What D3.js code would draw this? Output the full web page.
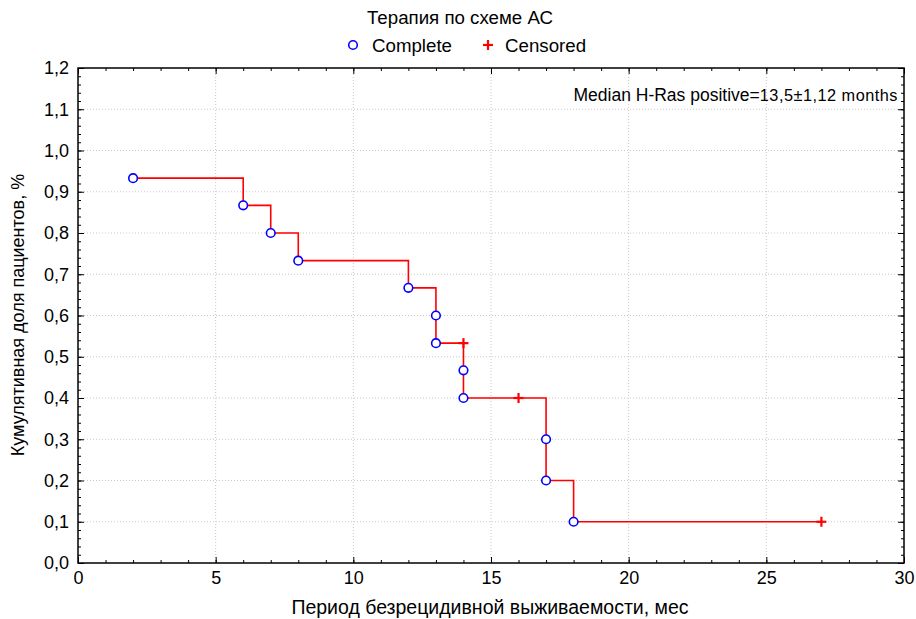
<!DOCTYPE html>
<html><head><meta charset="utf-8">
<script src="https://cdn.jsdelivr.net/npm/d3@7"></script>
<style>
body{margin:0;background:#fff;}
text{font-family:"Liberation Sans",Arial,sans-serif;fill:#000;}
</style></head>
<body><svg id="c" width="916" height="619"></svg>
<script>
// Kaplan-Meier step curve (time, cumulative proportion)
const stepTime = [2, 6, 7, 8, 12, 13, 14, 17, 18, 27];
const stepSurv = [0.933, 0.867, 0.8, 0.733, 0.667, 0.533, 0.4, 0.2, 0.1, 0.1];
// Complete (event) observations
const completeTime = [2, 6, 7, 8, 12, 13, 13, 14, 14, 17, 17, 18];
const completeSurv = [0.933, 0.867, 0.8, 0.733, 0.667, 0.6, 0.533, 0.467, 0.4, 0.3, 0.2, 0.1];
// Censored observations
const censTime = [14, 16, 27];
const censSurv = [0.533, 0.4, 0.1];
const xTicks = [0, 5, 10, 15, 20, 25, 30];
const yTicks = [0, 0.1, 0.2, 0.3, 0.4, 0.5, 0.6, 0.7, 0.8, 0.9, 1.0, 1.1, 1.2];

const svg = d3.select("#c");
const L = 78, R = 904, T = 68, B = 563;
const x = d3.scaleLinear().domain([0, 30]).range([L, R]);
const y = d3.scaleLinear().domain([0, 1.2]).range([B, T]);
const fmtY = d => d3.format(".1f")(d).replace(".", ",");

// grid
const grid = svg.append("g").attr("stroke", "#c8c8c8").attr("stroke-dasharray", "1,2").attr("stroke-width", 1);
xTicks.slice(1, -1).forEach(t => grid.append("line").attr("x1", x(t)).attr("x2", x(t)).attr("y1", T).attr("y2", B));
yTicks.slice(1, -1).forEach(t => grid.append("line").attr("x1", L).attr("x2", R).attr("y1", y(t)).attr("y2", y(t)));

// minor ticks
const minorX = d3.range(0, 31, 1), minorY = d3.range(0, 1.2001, 0.02);
function axisG(ax, tr){ const g = svg.append("g").attr("transform", tr).call(ax); g.select(".domain").remove(); g.selectAll("line").attr("stroke","#000"); return g; }
axisG(d3.axisBottom(x).tickValues(minorX).tickSize(-3).tickFormat(""), `translate(0,${B})`);
axisG(d3.axisTop(x).tickValues(minorX).tickSize(-3).tickFormat(""), `translate(0,${T})`);
axisG(d3.axisLeft(y).tickValues(minorY).tickSize(-3).tickFormat(""), `translate(${L},0)`);
axisG(d3.axisRight(y).tickValues(minorY).tickSize(-3).tickFormat(""), `translate(${R},0)`);
// major ticks
const gx = axisG(d3.axisBottom(x).tickValues(xTicks).tickSize(-6).tickPadding(8).tickFormat(d3.format("d")), `translate(0,${B})`);
const gy = axisG(d3.axisLeft(y).tickValues(yTicks).tickSize(-6).tickPadding(9).tickFormat(fmtY), `translate(${L},0)`);
axisG(d3.axisTop(x).tickValues(xTicks).tickSize(-6).tickFormat(""), `translate(0,${T})`);
axisG(d3.axisRight(y).tickValues(yTicks).tickSize(-6).tickFormat(""), `translate(${R},0)`);
[gx, gy].forEach(g => g.selectAll("text").attr("font-size", 18).attr("font-family", "Liberation Sans, Arial, sans-serif").attr("fill", "#000"));

// frame
svg.append("rect").attr("x", L).attr("y", T).attr("width", R - L).attr("height", B - T)
  .attr("fill", "none").attr("stroke", "#000").attr("stroke-width", 1.5);

// step line
const steps = stepTime.map((t, i) => [t, stepSurv[i]]);
svg.append("path").datum(steps)
  .attr("d", d3.line().x(d => x(d[0])).y(d => y(d[1])).curve(d3.curveStepAfter))
  .attr("fill", "none").attr("stroke", "#ff0000").attr("stroke-width", 1.6);

// censored
censTime.forEach((t, i) => {
  const g = svg.append("g").attr("transform", `translate(${x(t)},${y(censSurv[i])})`)
    .attr("stroke", "#ff0000").attr("stroke-width", 2.2);
  g.append("line").attr("x1", -5).attr("x2", 5);
  g.append("line").attr("y1", -5).attr("y2", 5);
});
// complete
svg.append("g").selectAll("circle").data(completeTime.map((t, i) => [t, completeSurv[i]])).join("circle")
  .attr("cx", d => x(d[0])).attr("cy", d => y(d[1])).attr("r", 4.3)
  .attr("fill", "#fff").attr("stroke", "#0000ff").attr("stroke-width", 1.6);

// title & legend
svg.append("text").attr("x", 460).attr("y", 24).attr("text-anchor", "middle").attr("font-size", 18.7).text("Терапия по схеме АС");
svg.append("circle").attr("cx", 353).attr("cy", 45).attr("r", 4.3).attr("fill", "#fff").attr("stroke", "#0000ff").attr("stroke-width", 1.6);
svg.append("text").attr("x", 372).attr("y", 52).attr("font-size", 18.7).text("Complete");
const lg = svg.append("g").attr("transform", "translate(488,45)").attr("stroke", "#ff0000").attr("stroke-width", 2.2);
lg.append("line").attr("x1", -5).attr("x2", 5); lg.append("line").attr("y1", -5).attr("y2", 5);
svg.append("text").attr("x", 505).attr("y", 52).attr("font-size", 18.7).text("Censored");

// annotation
const ann = svg.append("text").attr("x", 898).attr("y", 101).attr("text-anchor", "end").attr("font-size", 17.5);
ann.append("tspan").text("Median H-Ras positive=");
ann.append("tspan").attr("font-size", 16.3).attr("letter-spacing", 0.5).text("13,5±1,12 months");

// axis titles
svg.append("text").attr("x", 490).attr("y", 614).attr("text-anchor", "middle").attr("font-size", 19.5).text("Период безрецидивной выживаемости, мес");
svg.append("text").attr("transform", "translate(24,315) rotate(-90)").attr("text-anchor", "middle").attr("font-size", 18).text("Кумулятивная доля пациентов, %");
</script></body></html>
